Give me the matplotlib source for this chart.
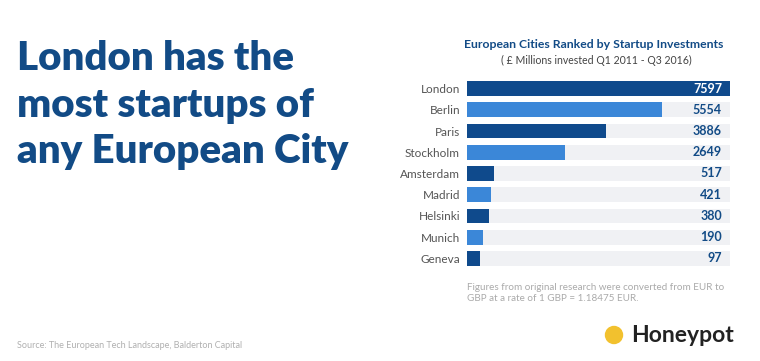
import matplotlib
matplotlib.use("Agg")
import matplotlib.pyplot as plt
from matplotlib.patches import Ellipse

plt.rcParams['font.family'] = ['Lato', 'DejaVu Sans']

cities = ["London", "Berlin", "Paris", "Stockholm", "Amsterdam",
          "Madrid", "Helsinki", "Munich", "Geneva"]
investments = [7597, 5554, 3886, 2649, 517, 421, 380, 190, 97]

dark = "#0f4a8c"
light = "#3b87d8"
track = "#f0f1f4"
navy = "#124b86"

fig = plt.figure(figsize=(7.6, 3.61), dpi=100)
fig.patch.set_facecolor("white")

# headline on the left
fig.text(17 / 760, 1 - 105 / 361, "London has the\nmost startups of\nany European City",
         fontsize=29, fontweight="heavy", color=navy, ha="left", va="center",
         linespacing=1.33)

ax = fig.add_axes([467 / 760, 1 - 269 / 361, 263 / 760, 191 / 361])
xmin, xmax = -295, 7610
ypos = list(range(len(cities)))
ax.barh(ypos, [xmax - xmin] * len(cities), left=xmin, height=0.7, color=track, zorder=1)
colors = [dark if i % 2 == 0 else light for i in range(len(cities))]
ax.barh(ypos, [v - xmin for v in investments], left=xmin, height=0.7,
        color=colors, zorder=2)
for i, v in enumerate(investments):
    ax.text(xmax - 240, i, str(v), ha="right", va="center", fontsize=9,
            fontweight="bold", color="white" if i == 0 else navy, zorder=3)

ax.set_xlim(xmin, xmax)
ax.set_ylim(len(cities) - 0.5, -0.5)
ax.set_yticks(ypos)
ax.set_yticklabels(cities, fontsize=8.5, color="#555555")
ax.tick_params(axis="y", length=0, pad=5)
ax.set_xticks([])
for s in ax.spines.values():
    s.set_visible(False)

fig.text(594 / 760, 1 - 45 / 361, "European Cities Ranked by Startup Investments",
         fontsize=8.8, fontweight="bold", color=navy, ha="center", va="center")
fig.text(596 / 760, 1 - 60 / 361, "( £ Millions invested Q1 2011 - Q3 2016)",
         fontsize=7.6, color="#444444", ha="center", va="center")

fig.text(467 / 760, 1 - 293 / 361,
         "Figures from original research were converted from EUR to\nGBP at a rate of 1 GBP = 1.18475 EUR.",
         fontsize=7.1, color="#aaaaaa", ha="left", va="center", linespacing=1.3)

fig.text(17 / 760, 1 - 345 / 361, "Source: The European Tech Landscape, Balderton Capital",
         fontsize=6.5, color="#b0b0b0", ha="left", va="center")

# Honeypot logo
fig.patches.append(Ellipse((614 / 760, 1 - 335 / 361), 17 / 760, 17 / 361,
                           transform=fig.transFigure, color="#f2c12e", zorder=5))
fig.text(631 / 760, 1 - 335 / 361, "Honeypot", fontsize=16.5, fontweight="bold",
         color="#222222", ha="left", va="center")

fig.savefig("out.png", dpi=100)
